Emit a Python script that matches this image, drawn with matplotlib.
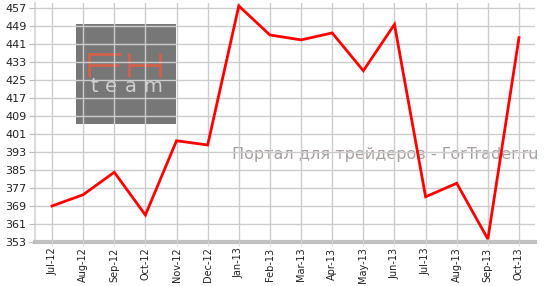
import matplotlib
matplotlib.use("Agg")
import matplotlib.pyplot as plt
from matplotlib.patches import Rectangle
from matplotlib.lines import Line2D

months = ["Jul-12", "Aug-12", "Sep-12", "Oct-12", "Nov-12", "Dec-12", "Jan-13", "Feb-13",
          "Mar-13", "Apr-13", "May-13", "Jun-13", "Jul-13", "Aug-13", "Sep-13", "Oct-13"]
values = [369, 374, 384, 365, 398, 396.1, 457.9, 445, 442.8, 445.9, 429.1, 449.7,
          373.1, 379.1, 354.3, 443.8]
yticks = [353, 361, 369, 377, 385, 393, 401, 409, 417, 425, 433, 441, 449, 457]

W, H = 546, 286
fig = plt.figure(figsize=(W / 100, H / 100), dpi=100)
fig.patch.set_facecolor("white")
ax = fig.add_axes([35 / W, 1 - 242 / H, 500 / W, 239 / H])
ax.set_facecolor("white")

x = list(range(len(months)))
ax.set_xlim(-0.546, 15.514)
ax.set_ylim(353, 459.2)


def fx(px):
    return px / W


def fy(py):
    return 1 - py / H


# watermark box and logo (behind grid)
ax.add_patch(Rectangle((fx(76), fy(124)), 100 / W, 100 / H, transform=fig.transFigure,
                       facecolor="#777777", edgecolor="none", zorder=0))
logo_c = "#d2604e"
segs = [
    ((89, 53), (89, 77)), ((88, 54), (121, 54)), ((89, 65), (119, 65)),
    ((129, 53), (129, 77)), ((160, 53), (160, 77)), ((129, 65), (160, 65)),
]
for (x0, y0), (x1, y1) in segs:
    ax.add_line(Line2D([fx(x0), fx(x1)], [fy(y0), fy(y1)], transform=fig.transFigure,
                       color=logo_c, linewidth=2, zorder=0.5, solid_capstyle="butt",
                       clip_on=False))
for ch, cx in zip("team", [94, 111, 131, 153]):
    ax.text(fx(cx), fy(87), ch, transform=fig.transFigure, color="#d0d0d0", fontsize=14,
            ha="center", va="center", zorder=0.5)

ax.text(fx(385), fy(154), "Портал для трейдеров - ForTrader.ru", transform=fig.transFigure,
        color="#a89f9f", fontsize=11.5, ha="center", va="center", zorder=0.5)

ax.set_axisbelow(False)
ax.set_xticks(x)
ax.set_xticklabels(months, rotation=90, fontsize=7, color="#222222")
ax.set_yticks(yticks)
ax.set_yticklabels([str(v) for v in yticks], fontsize=8, color="#222222")
ax.grid(True, color="#cccccc", linewidth=1, zorder=1)

ax.plot(x, values, color="#ff0000", linewidth=2, zorder=3, solid_joinstyle="miter")

for s in ["top", "right"]:
    ax.spines[s].set_visible(False)
ax.spines["left"].set_color("#dddddd")
ax.spines["left"].set_linewidth(1.5)
ax.spines["bottom"].set_color("#c0c0c0")
ax.spines["bottom"].set_linewidth(3)
ax.tick_params(axis="y", length=4, color="#bbbbbb", pad=2)
ax.tick_params(axis="x", length=3, color="#dddddd", pad=1)

fig.savefig("out.png", dpi=100)
